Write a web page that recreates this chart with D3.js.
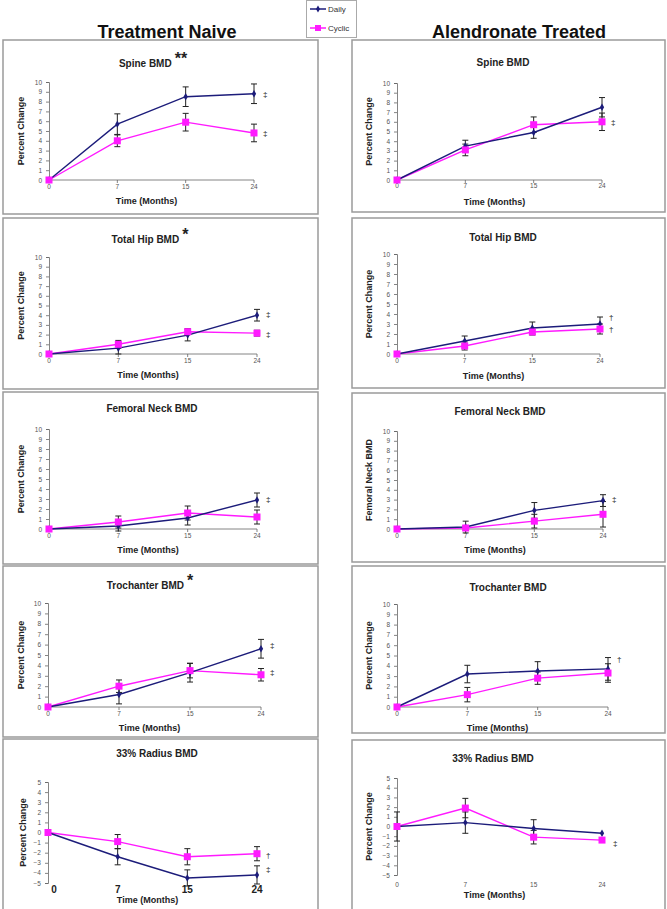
<!DOCTYPE html>
<html><head><meta charset="utf-8">
<script src="https://cdn.jsdelivr.net/npm/d3@7"></script>
<style>
html,body{margin:0;padding:0;background:#fff;}
svg{display:block;font-family:"Liberation Sans",Arial,sans-serif;}
</style></head>
<body>
<svg id="c" width="667" height="909"></svg>
<script>
// ---------- DATA ----------
const categories = ["0", "7", "15", "24"];
const seriesNames = ["Daily", "Cyclic"];
const columnTitles = ["Treatment Naive", "Alendronate Treated"];
const ticks0to10 = [0,1,2,3,4,5,6,7,8,9,10];
const ticksRadius = [5,4,3,2,1,0,-1,-2,-3,-4,-5];

const spineNaiveDaily = [0, 5.7, 8.5, 8.8];
const spineNaiveDailyErr = [0, 1.05, 1.0, 1.0];
const spineNaiveCyclic = [0, 4.0, 5.9, 4.8];
const spineNaiveCyclicErr = [0, 0.6, 0.9, 0.9];
const spineAlnDaily = [0, 3.5, 4.9, 7.5];
const spineAlnDailyErr = [0, 0.6, 0.6, 1.0];
const spineAlnCyclic = [0, 3.1, 5.7, 6.0];
const spineAlnCyclicErr = [0, 0.6, 0.8, 0.9];

const hipNaiveDaily = [0, 0.6, 1.95, 4.0];
const hipNaiveDailyErr = [0, 0.6, 0.6, 0.6];
const hipNaiveCyclic = [0, 1.0, 2.3, 2.15];
const hipNaiveCyclicErr = [0, 0.4, 0.3, 0.3];
const hipAlnDaily = [0, 1.3, 2.6, 3.0];
const hipAlnDailyErr = [0, 0.5, 0.6, 0.7];
const hipAlnCyclic = [0, 0.8, 2.2, 2.5];
const hipAlnCyclicErr = [0, 0.4, 0.3, 0.5];

const neckNaiveDaily = [0, 0.3, 1.1, 2.9];
const neckNaiveDailyErr = [0, 0.5, 0.7, 0.7];
const neckNaiveCyclic = [0, 0.7, 1.6, 1.2];
const neckNaiveCyclicErr = [0, 0.6, 0.7, 0.7];
const neckAlnDaily = [0, 0.2, 1.9, 2.9];
const neckAlnDailyErr = [0, 0.6, 0.8, 0.6];
const neckAlnCyclic = [0, 0.1, 0.8, 1.5];
const neckAlnCyclicErr = [0, 0.2, 0.7, 1.3];

const trochNaiveDaily = [0, 1.2, 3.3, 5.6];
const trochNaiveDailyErr = [0, 0.9, 0.9, 0.9];
const trochNaiveCyclic = [0, 2.0, 3.5, 3.1];
const trochNaiveCyclicErr = [0, 0.6, 0.7, 0.6];
const trochAlnDaily = [0, 3.2, 3.5, 3.7];
const trochAlnDailyErr = [0, 0.85, 0.9, 1.1];
const trochAlnCyclic = [0, 1.2, 2.8, 3.3];
const trochAlnCyclicErr = [0, 0.7, 0.6, 0.9];

const radiusNaiveDaily = [0, -2.4, -4.5, -4.2];
const radiusNaiveDailyErr = [0, 0.8, 0.8, 0.9];
const radiusNaiveCyclic = [0, -0.9, -2.4, -2.1];
const radiusNaiveCyclicErr = [0, 0.7, 0.8, 0.7];
const radiusAlnDaily = [0, 0.4, -0.2, -0.7];
const radiusAlnDailyErr = [1.5, 1.1, 0.9, 0];
const radiusAlnCyclic = [0, 1.9, -1.1, -1.4];
const radiusAlnCyclicErr = [0, 1.0, 0.7, 0];

// significance marks next to month 24: [value, symbol]
const spineNaiveMarks = [[8.8, "‡"], [4.8, "‡"]];
const spineAlnMarks = [[6.0, "‡"]];
const hipNaiveMarks = [[4.1, "‡"], [2.0, "‡"]];
const hipAlnMarks = [[3.7, "†"], [2.5, "†"]];
const neckNaiveMarks = [[3.0, "‡"]];
const neckAlnMarks = [[3.0, "‡"]];
const trochNaiveMarks = [[5.9, "‡"], [3.3, "‡"]];
const trochAlnMarks = [[4.6, "†"]];
const radiusNaiveMarks = [[-2.2, "†"], [-3.6, "‡"]];
const radiusAlnMarks = [[-1.7, "‡"]];

// ---------- LAYOUT ----------
const panels = [
  {title:"Spine BMD", star:"**", ytitle:"Percent Change", d:spineNaiveDaily, de:spineNaiveDailyErr, c:spineNaiveCyclic, ce:spineNaiveCyclicErr, marks:spineNaiveMarks,
   frame:[3,40,318,214], x:[49,254], y:[180,82], ticks:ticks0to10, titleXY:[153,67], ytX:21, xtY:204, tlY:189},
  {title:"Spine BMD", star:"", ytitle:"Percent Change", d:spineAlnDaily, de:spineAlnDailyErr, c:spineAlnCyclic, ce:spineAlnCyclicErr, marks:spineAlnMarks,
   frame:[352,40,665,212], x:[397,602], y:[180,83], ticks:ticks0to10, titleXY:[503,66], ytX:369, xtY:205, tlY:188},
  {title:"Total Hip BMD", star:"*", ytitle:"Percent Change", d:hipNaiveDaily, de:hipNaiveDailyErr, c:hipNaiveCyclic, ce:hipNaiveCyclicErr, marks:hipNaiveMarks,
   frame:[3,218,318,389], x:[49,257], y:[354,257], ticks:ticks0to10, titleXY:[150,243], ytX:21, xtY:378, tlY:363},
  {title:"Total Hip BMD", star:"", ytitle:"Percent Change", d:hipAlnDaily, de:hipAlnDailyErr, c:hipAlnCyclic, ce:hipAlnCyclicErr, marks:hipAlnMarks,
   frame:[352,218,665,388], x:[397,600], y:[354,254], ticks:ticks0to10, titleXY:[503,241], ytX:369, xtY:379, tlY:363},
  {title:"Femoral Neck BMD", star:"", ytitle:"Percent Change", d:neckNaiveDaily, de:neckNaiveDailyErr, c:neckNaiveCyclic, ce:neckNaiveCyclicErr, marks:neckNaiveMarks,
   frame:[3,392,318,564], x:[49,257], y:[529,429], ticks:ticks0to10, titleXY:[152,412], ytX:21, xtY:553, tlY:538},
  {title:"Femoral Neck BMD", star:"", ytitle:"Femoral Neck BMD", d:neckAlnDaily, de:neckAlnDailyErr, c:neckAlnCyclic, ce:neckAlnCyclicErr, marks:neckAlnMarks,
   frame:[352,393,665,562], x:[397,603], y:[529,431], ticks:ticks0to10, titleXY:[500,415], ytX:369, xtY:553, tlY:538},
  {title:"Trochanter BMD", star:"*", ytitle:"Percent Change", d:trochNaiveDaily, de:trochNaiveDailyErr, c:trochNaiveCyclic, ce:trochNaiveCyclicErr, marks:trochNaiveMarks,
   frame:[3,566,318,737], x:[48,261], y:[707,603], ticks:ticks0to10, titleXY:[150,589], ytX:21, xtY:731, tlY:716},
  {title:"Trochanter BMD", star:"", ytitle:"Percent Change", d:trochAlnDaily, de:trochAlnDailyErr, c:trochAlnCyclic, ce:trochAlnCyclicErr, marks:trochAlnMarks,
   frame:[352,566,665,733], x:[397,608], y:[707,604], ticks:ticks0to10, titleXY:[508,591], ytX:369, xtY:731, tlY:716},
  {title:"33% Radius BMD", star:"", ytitle:"Percent Change", d:radiusNaiveDaily, de:radiusNaiveDailyErr, c:radiusNaiveCyclic, ce:radiusNaiveCyclicErr, marks:radiusNaiveMarks,
   frame:[3,739,318,915], x:[48,257], y:[883,782], ticks:ticksRadius, titleXY:[157,757], ytX:23, xtY:903, tlY:893, bigLabels:true, noXLine:true},
  {title:"33% Radius BMD", star:"", ytitle:"Percent Change", d:radiusAlnDaily, de:radiusAlnDailyErr, c:radiusAlnCyclic, ce:radiusAlnCyclicErr, marks:radiusAlnMarks,
   frame:[352,740,665,915], x:[397,602], y:[875,778], ticks:ticksRadius, titleXY:[493,762], ytX:369, xtY:898, tlY:887, noXLine:true}
];

const DAILY = "#1c1c7a", CYCLIC = "#ff1aff";
const svg = d3.select("#c");

// column headers
svg.append("text").attr("x",167).attr("y",38).attr("text-anchor","middle")
  .attr("font-size",18).attr("font-weight","bold").attr("fill","#111").text(columnTitles[0]);
svg.append("text").attr("x",519).attr("y",38).attr("text-anchor","middle")
  .attr("font-size",18).attr("font-weight","bold").attr("fill","#111").text(columnTitles[1]);

// legend
const lg = svg.append("g");
lg.append("rect").attr("x",306.5).attr("y",0.5).attr("width",50).attr("height",37).attr("fill","#fff").attr("stroke","#aaa");
seriesNames.forEach((n,i)=>{
  const yy = 9 + i*19, col = i===0?DAILY:CYCLIC;
  lg.append("line").attr("x1",310).attr("x2",326).attr("y1",yy).attr("y2",yy).attr("stroke",col).attr("stroke-width",1.5);
  if(i===0) lg.append("path").attr("d",d3.symbol(d3.symbolDiamond,14)()).attr("transform",`translate(318,${yy})`).attr("fill",col);
  else lg.append("rect").attr("x",315).attr("y",yy-3).attr("width",6).attr("height",6).attr("fill",col);
  lg.append("text").attr("x",328).attr("y",yy+3).attr("font-size",8).attr("fill","#333").text(n);
});

panels.forEach(p=>{
  const g = svg.append("g");
  const [fx0,fy0,fx1,fy1] = p.frame;
  g.append("rect").attr("x",fx0).attr("y",fy0).attr("width",fx1-fx0).attr("height",fy1-fy0)
    .attr("fill","#fff").attr("stroke","#9a9a9a").attr("stroke-width",1.5);

  const x = d3.scalePoint().domain(categories).range(p.x);
  const ext = d3.extent(p.ticks);
  const y = d3.scaleLinear().domain(ext).range(p.y);

  // y axis
  const ya = g.append("g").attr("transform",`translate(${p.x[0]},0)`)
    .call(d3.axisLeft(y).tickValues(p.ticks).tickSize(3).tickPadding(4));
  ya.select(".domain").attr("stroke","#666").attr("stroke-width",0.8);
  ya.selectAll(".tick line").attr("stroke","#666").attr("stroke-width",0.8);
  ya.selectAll(".tick text").attr("font-size",6.5).attr("fill","#555").attr("font-family","Liberation Sans, Arial");

  // x axis
  if(!p.noXLine){
    g.append("line").attr("x1",p.x[0]).attr("x2",p.x[1]).attr("y1",y(0)).attr("y2",y(0)).attr("stroke","#666").attr("stroke-width",0.8);
    categories.forEach(cv=>{
      g.append("line").attr("x1",x(cv)).attr("x2",x(cv)).attr("y1",y(0)).attr("y2",y(0)+3).attr("stroke","#666").attr("stroke-width",0.8);
    });
  }
  categories.forEach(cv=>{
    g.append("text").attr("x",x(cv) + (p.bigLabels && cv==="0" ? 6 : 0)).attr("y",p.tlY).attr("text-anchor","middle")
      .attr("font-size",p.bigLabels?10:6.5).attr("font-weight",p.bigLabels?"bold":"normal")
      .attr("fill",p.bigLabels?"#222":"#555").text(cv);
  });

  // titles
  const t = g.append("text").attr("x",p.titleXY[0]).attr("y",p.titleXY[1]).attr("text-anchor","middle")
    .attr("font-size",10).attr("font-weight","bold").attr("fill","#222");
  t.append("tspan").text(p.title);
  if(p.star) t.append("tspan").attr("dx",3).attr("dy",-3).attr("font-size",16).text(p.star);
  g.append("text").attr("transform",`translate(${p.ytX},${(p.y[0]+p.y[1])/2}) rotate(-90)`).attr("text-anchor","middle")
    .attr("dy","0.35em").attr("font-size",9).attr("font-weight","bold").attr("fill","#222").text(p.ytitle);
  g.append("text").attr("x",(p.x[0]+p.x[1])/2 - 5).attr("y",p.xtY).attr("text-anchor","middle")
    .attr("font-size",9).attr("font-weight","bold").attr("fill","#222").text("Time (Months)");

  // error bars, lines, markers
  const series = [{v:p.d, e:p.de, col:DAILY, daily:true},{v:p.c, e:p.ce, col:CYCLIC, daily:false}];
  series.forEach(s=>{
    s.v.forEach((v,i)=>{
      if(s.e[i] > 0){
        const cx = x(categories[i]), y1 = y(v+s.e[i]), y2 = y(v-s.e[i]);
        g.append("line").attr("x1",cx).attr("x2",cx).attr("y1",y1).attr("y2",y2).attr("stroke","#222").attr("stroke-width",1);
        [y1,y2].forEach(yy=>g.append("line").attr("x1",cx-3).attr("x2",cx+3).attr("y1",yy).attr("y2",yy).attr("stroke","#222").attr("stroke-width",1));
      }
    });
  });
  series.slice().reverse().forEach(s=>{
    const line = d3.line().x((v,i)=>x(categories[i])).y(v=>y(v));
    g.append("path").attr("d",line(s.v)).attr("fill","none").attr("stroke",s.col).attr("stroke-width",1.4);
  });
  series.forEach(s=>{
    s.v.forEach((v,i)=>{
      const cx = x(categories[i]), cy = y(v);
      if(s.daily) g.append("path").attr("d",d3.symbol(d3.symbolDiamond,16)()).attr("transform",`translate(${cx},${cy})`).attr("fill",s.col);
      else g.append("rect").attr("x",cx-3.5).attr("y",cy-3.5).attr("width",7).attr("height",7).attr("fill",s.col);
    });
  });
  p.marks.forEach(m=>{
    g.append("text").attr("x",x(categories[3])+ (p===panels[9]?11:9)).attr("y",y(m[0])).attr("dy","0.35em")
      .attr("font-size",8).attr("fill","#222").text(m[1]);
  });
});
</script>
</body></html>
